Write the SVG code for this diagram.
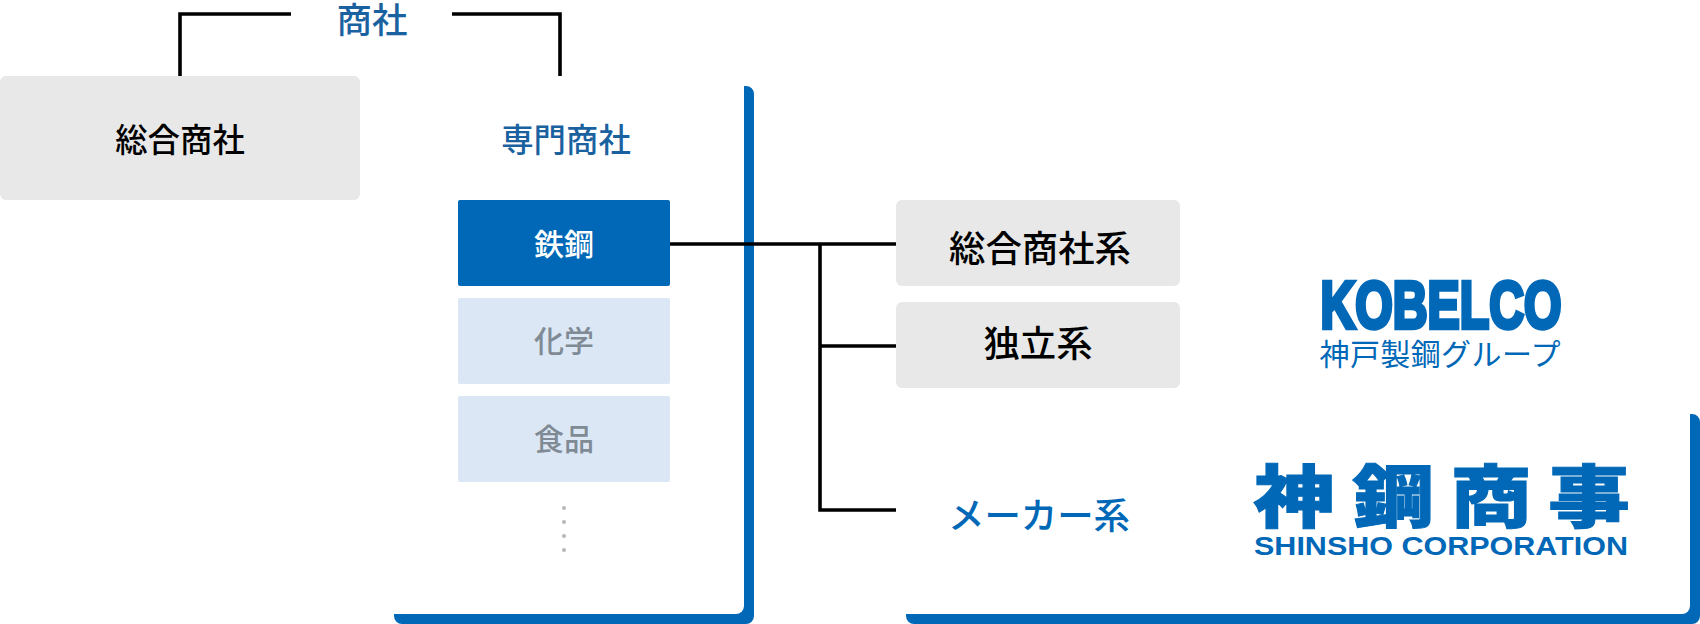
<svg xmlns="http://www.w3.org/2000/svg" width="1700" height="624" viewBox="0 0 1700 624">
<style>
text{font-family:"Noto Sans CJK JP","Noto Sans CJK SC",sans-serif;text-anchor:middle;dominant-baseline:central;font-weight:500}
.gray{fill:#e8e8e8}
.lb{fill:#dbe7f4}
.blue{fill:#0068b7}
.hd{fill:#1a629f}
.k{fill:#000}
.mut{fill:#7f8a94}
.line{fill:none;stroke:#000;stroke-width:3.6}
.dot{fill:#b8b8b8}
.latin{font-family:"Liberation Sans",Arial,sans-serif;font-weight:700}
</style>
<rect width="1700" height="624" fill="#fff"/>
<g id="panel-senmon"><path class="blue" d="M744 86h2a8 8 0 0 1 8 8V616a8 8 0 0 1-8 8H402a8 8 0 0 1-8-8v-2H736a8 8 0 0 0 8-8Z"/></g>
<g id="panel-maker"><path class="blue" d="M1690 414h2a8 8 0 0 1 8 8V616a8 8 0 0 1-8 8H914a8 8 0 0 1-8-8v-2H1682a8 8 0 0 0 8-8Z"/></g>
<g id="connectors">
<path class="line" d="M180 77V14H291M452 14H560V76"/>
<path class="line" d="M670 244H896M820 244V510H896M820 346H896"/>
</g>
<g id="label-shosha"><text class="hd" x="372" y="17" font-size="35.5">商社</text></g>
<g id="node-sogo"><rect class="gray" x="0" y="76" width="360" height="124" rx="6"/><text class="k" x="180" y="137.5" font-size="32.4">総合商社</text></g>
<g id="node-senmon"><text class="hd" x="566" y="137.5" font-size="32.4">専門商社</text></g>
<g id="node-tekko"><rect class="blue" x="458" y="200" width="212" height="86" rx="2"/><text fill="#fff" x="564" y="242" font-size="30">鉄鋼</text></g>
<g id="node-kagaku"><rect class="lb" x="458" y="298" width="212" height="86" rx="2"/><text class="mut" x="564" y="339" font-size="30">化学</text></g>
<g id="node-shokuhin"><rect class="lb" x="458" y="396" width="212" height="86" rx="2"/><text class="mut" x="564" y="436.5" font-size="30">食品</text></g>
<g id="dots"><circle class="dot" cx="564" cy="508" r="2"/><circle class="dot" cx="564" cy="522" r="2"/><circle class="dot" cx="564" cy="536" r="2"/><circle class="dot" cx="564" cy="550" r="2"/></g>
<g id="node-sogokei"><rect class="gray" x="896" y="200" width="284" height="86" rx="6"/><text class="k" x="1040" y="245.5" font-size="36.4">総合商社系</text></g>
<g id="node-dokuritsu"><rect class="gray" x="896" y="302" width="284" height="86" rx="6"/><text class="k" x="1038" y="341" font-size="36.4">独立系</text></g>
<g id="node-maker"><text class="blue" x="1039" y="513" font-size="36.4">メーカー系</text></g>
<g id="logo-kobelco">
<text class="blue latin" x="1441" y="304.5" font-size="67" stroke="#0068b7" stroke-width="4.5" textLength="241" lengthAdjust="spacingAndGlyphs">KOBELCO</text>
<text class="blue" x="1440" y="352" font-size="30" style="font-weight:400" textLength="241">神戸製鋼グループ</text>
</g>
<g id="logo-shinsho">
<text class="blue" style="font-weight:900" font-size="68" stroke="#0068b7" stroke-width="1" transform="translate(1441 492) scale(1.2 1)" y="0"><tspan x="-122.5">神</tspan><tspan x="-40">鋼</tspan><tspan x="41.7">商</tspan><tspan x="123.3">事</tspan></text>
<text class="blue latin" x="1441" y="545.5" font-size="26" textLength="374" lengthAdjust="spacingAndGlyphs">SHINSHO CORPORATION</text>
</g>
</svg>
